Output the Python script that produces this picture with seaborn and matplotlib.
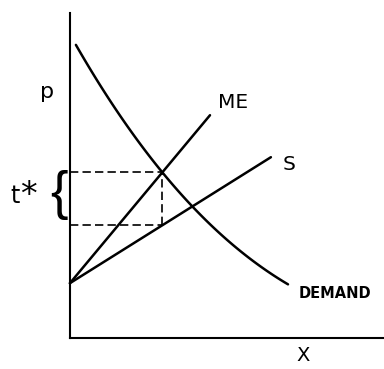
# libraries
import seaborn as sns
import matplotlib.pyplot as plt
import pandas as pd
import numpy as np

# demand curve
demand_x = [0.2, 1.33, 3.03, 4.07, 5.43, 7.27]
demand_p = [9.73, 8.03, 5.53, 4.33, 3.2, 1.77]

# marginal expenditure (ME) and supply (S) lines, end points
me_x = [0.0, 4.67]
me_p = [1.83, 7.43]
s_x = [0.0, 6.7]
s_p = [1.83, 6.03]

# optimum quantity and the two prices that bound the tax t*
x_star = 3.07
p_high = 5.53
p_low = 3.77

x_axis_end = 10.47
p_axis_end = 10.83

sns.set_style("white")
plt.rcParams['font.family'] = ['DejaVu Sans']
plt.rcParams['text.color'] = "black"

fig = plt.figure(figsize=(3.84, 3.69), dpi=100)
ax = fig.add_axes([0, 0, 1, 1])

lw = 1.8
sns.regplot(x=demand_x, y=demand_p, order=3, ci=None, scatter=False,
            truncate=True, color="black", line_kws={"lw": lw}, ax=ax)
sns.lineplot(x=me_x, y=me_p, color="black", lw=lw, ax=ax)
sns.lineplot(x=s_x, y=s_p, color="black", lw=lw, ax=ax)

# dashed guides
dash = (0, (5, 2.5))
ax.hlines([p_high, p_low], 0, x_star, colors="black", lw=1.2, linestyles=[dash])
ax.vlines(x_star, p_low, p_high, colors="black", lw=1.2, linestyles=[dash])

# axes as spines through the origin
ax.set_xlim(-2.33, 10.47)
ax.set_ylim(-1.03, 11.27)
sns.despine(ax=ax)
ax.spines['left'].set_position(('data', 0))
ax.spines['bottom'].set_position(('data', 0))
ax.spines['left'].set_bounds(0, p_axis_end)
ax.spines['bottom'].set_bounds(0, x_axis_end)
for sp in ['left', 'bottom']:
    ax.spines[sp].set_linewidth(1.5)
    ax.spines[sp].set_color("black")
ax.set_xticks([])
ax.set_yticks([])
ax.set_xlabel("")
ax.set_ylabel("")

# labels
ax.text(-0.77, 8.2, "p", fontsize=16, ha="center", va="center")
ax.text(5.43, 7.87, "ME", fontsize=14.5, ha="center", va="center")
ax.text(7.3, 5.8, "S", fontsize=14.5, ha="center", va="center")
ax.text(8.83, 1.5, "DEMAND", fontsize=10.5, fontweight="bold", ha="center", va="center")
ax.text(7.77, -0.57, "X", fontsize=14, ha="center", va="center")
ax.text(-1.83, 4.75, "t", fontsize=17, ha="center", va="center")
ax.text(-1.38, 4.75, "*", fontsize=24, ha="center", va="center")
ax.text(-0.38, 4.78, "{", fontsize=38, family="Liberation Sans", ha="center", va="center")

fig.savefig("out.png", dpi=100)
